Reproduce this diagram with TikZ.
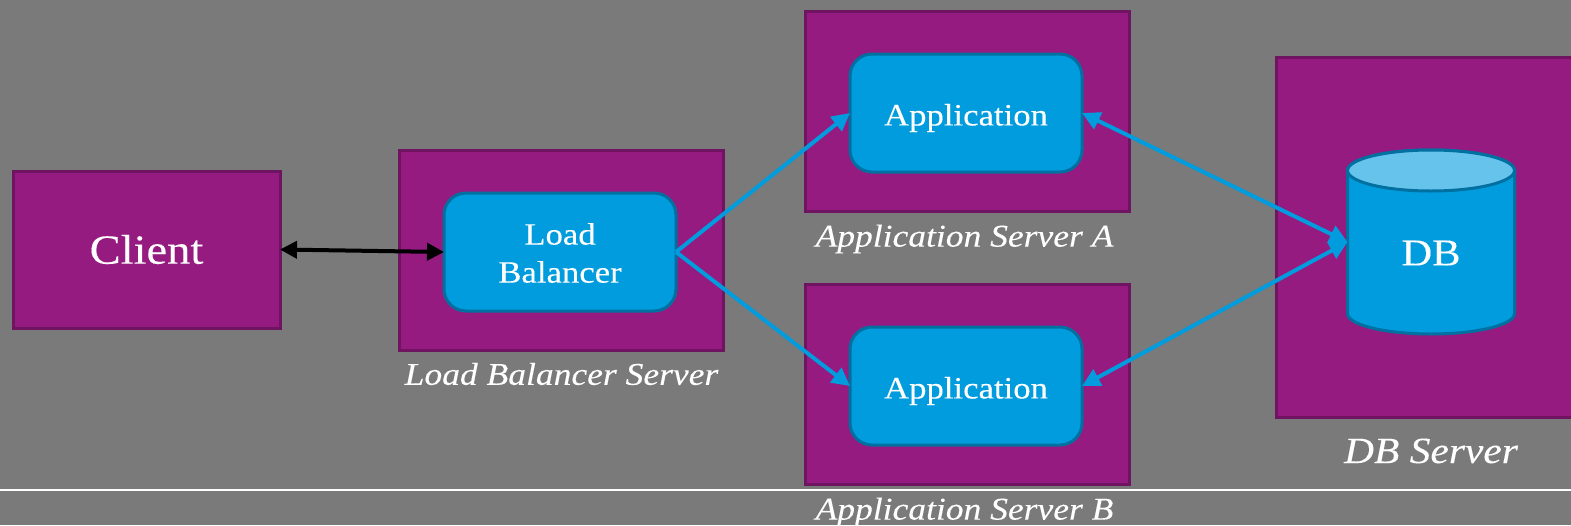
\documentclass[tikz,border=0pt]{standalone}
\usepackage{fontspec}
\setmainfont{Liberation Serif}[FakeStretch=1.12,FakeBold=0.15]
\usetikzlibrary{arrows.meta}
\definecolor{bggray}{HTML}{7A7A7A}
\definecolor{srvfill}{HTML}{951B81}
\definecolor{srvline}{HTML}{6E1460}
\definecolor{boxfill}{HTML}{009CDE}
\definecolor{boxline}{HTML}{0070A0}
\definecolor{toplight}{HTML}{66C3EB}
\tikzset{
  x=1pt,y=-1pt,
  server/.style={draw=srvline,fill=srvfill,line width=3pt,anchor=north west,inner sep=0pt,outer sep=0pt,text=white},
  appbox/.style={draw=boxline,fill=boxfill,line width=3pt,rounded corners=22pt,minimum width=232pt,minimum height=118pt,inner sep=0pt,outer sep=0pt},
  boxtext/.style={text=white,font=\fontsize{31}{36}\selectfont,inner sep=0pt},
  caption/.style={text=white,font=\itshape\fontsize{31.7}{36}\selectfont,inner sep=0pt},
  bluelink/.style={draw=boxfill,line width=4pt,{Triangle[length=18pt,width=18pt]}-{Triangle[length=18pt,width=18pt]}},
  bluearrow/.style={draw=boxfill,line width=4pt,-{Triangle[length=18pt,width=18pt]}},
  blacklink/.style={draw=black,line width=4pt,{Triangle[length=17pt,width=17pt]}-{Triangle[length=17pt,width=17pt]}},
  cylr/.style={x radius=83.5pt,y radius=20.5pt},
}
\begin{document}
\begin{tikzpicture}
\useasboundingbox (0,0) rectangle (1571,525);
\clip (0,0) rectangle (1571,525);
\fill[bggray] (0,0) rectangle (1571,525);
\coordinate (ruleL) at (0,489.5);
\coordinate (ruleR) at (1571,489.5);
\draw[white,line width=2pt] (ruleL) -- (ruleR);

\node[server,minimum width=267pt,minimum height=157pt,font=\fontsize{41.5}{48}\selectfont] (client) at (13,171) {Client};
\node[server,minimum width=323.5pt,minimum height=200.5pt] (lbs) at (399.5,150) {};
\node[server,minimum width=324pt,minimum height=200.5pt] (asa) at (805,11) {};
\node[server,minimum width=324pt,minimum height=200.5pt] (asb) at (805,284) {};
\node[server,minimum width=320pt,minimum height=360pt] (dbs) at (1276.5,57) {};

\node[appbox] (lb) at (560,252) {};
\node[appbox] (appa) at (966,113) {};
\node[appbox] (appb) at (966,386) {};
\node[boxtext] (lbt1) at (560,234) {Load};
\node[boxtext] (lbt2) at (560,272) {Balancer};
\node[boxtext] (appat) at (966,118) {Application};
\node[boxtext] (appbt) at (966,391) {Application};

\node[minimum width=167pt,minimum height=184pt,inner sep=0pt,outer sep=0pt] (db) at (1431,242) {};
\path[draw=boxline,fill=boxfill,line width=3pt]
  ([yshift=-20.5pt]db.north west) -- ([yshift=20.5pt]db.south west)
  arc[start angle=180,end angle=360,cylr]
  -- ([yshift=-20.5pt]db.north east)
  arc[start angle=0,end angle=180,cylr] -- cycle;
\path[draw=boxline,fill=toplight,line width=3pt] ([yshift=-20.5pt]db.north) ellipse[cylr];
\node[text=white,font=\fontsize{38}{44}\selectfont,inner sep=0pt] (dbt) at (1431,253) {DB};

\node[caption] (lbcap) at (561.5,374) {Load Balancer Server};
\node[caption] (acap) at (964.5,239) {Application Server A};
\node[caption] (bcap) at (964.5,512) {Application Server B};
\node[caption,font=\itshape\fontsize{37}{42}\selectfont] (dbcap) at (1431,451) {DB Server};

\draw[blacklink] (client.east) -- (lb.west);
\draw[bluearrow] (lb.east) -- (appa.west);
\draw[bluearrow] (lb.east) -- (appb.west);
\draw[bluelink] (appa.east) -- (db.west);
\draw[bluelink] (appb.east) -- (db.west);
\end{tikzpicture}
\end{document}
